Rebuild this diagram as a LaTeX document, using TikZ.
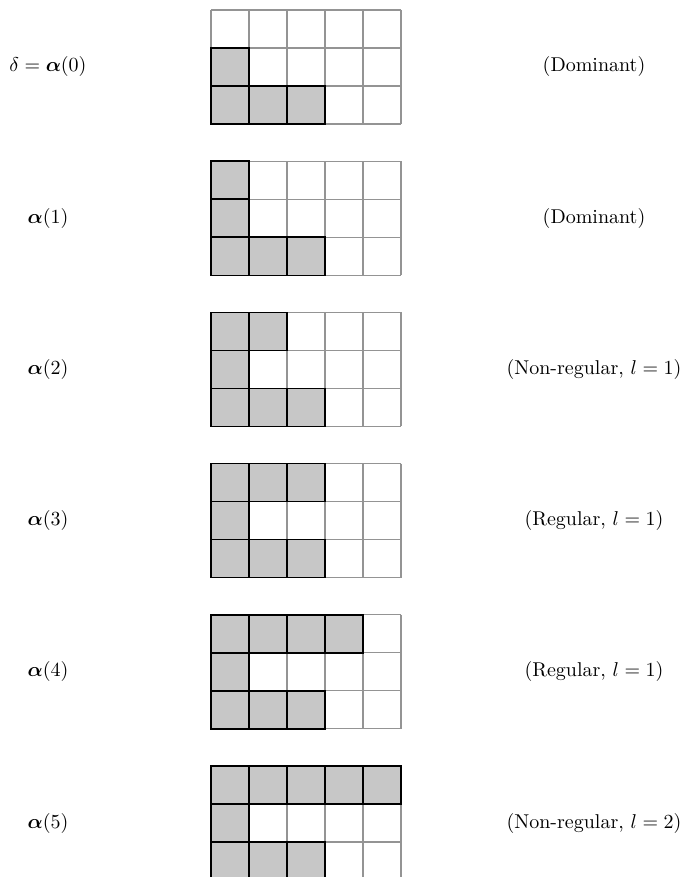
\documentclass[tikz,border=0pt]{standalone}
\usepackage{amsmath,amssymb,bm}
\tikzset{
  cellgrid/.style={draw=black!42, line width=0.6pt},
  filled/.style={fill=black!22, draw=black, line width=0.7pt},
  lab/.style={inner sep=0pt, anchor=center},
}
\begin{document}
\begin{tikzpicture}[x=0.5pt,y=-0.5pt]
\useasboundingbox (0,0) rectangle (688,877);
\foreach \k/\top/\L/\R in {
  0/0/{$\delta=\bm{\alpha}(0)$}/{(Dominant)},
  1/1/{$\bm{\alpha}(1)$}/{(Dominant)},
  2/2/{$\bm{\alpha}(2)$}/{(Non-regular, $l=1$)},
  3/3/{$\bm{\alpha}(3)$}/{(Regular, $l=1$)},
  4/4/{$\bm{\alpha}(4)$}/{(Regular, $l=1$)},
  5/5/{$\bm{\alpha}(5)$}/{(Non-regular, $l=2$)}}{
  \pgfmathsetmacro{\y}{10+151.2*\k}
  \begin{scope}[shift={(211,\y)}]
    \foreach \c in {0,...,5}{\draw[cellgrid] ({38*\c},0) -- ({38*\c},114);}
    \foreach \r in {0,...,3}{\draw[cellgrid] (0,{38*\r}) -- (190,{38*\r});}
    \ifnum\top>0
      \foreach \i in {1,...,\top}{
        \draw[filled] ({38*(\i-1)},0) rectangle ({38*\i},38);
      }
    \fi
    \draw[filled] (0,38) rectangle (38,76);
    \foreach \i in {1,2,3}{
      \draw[filled] ({38*(\i-1)},76) rectangle ({38*\i},114);
    }
    \node[lab] (L\k) at (-163,57) {\L};
    \node[lab] (R\k) at (383,57) {\R};
  \end{scope}
}
\end{tikzpicture}
\end{document}
